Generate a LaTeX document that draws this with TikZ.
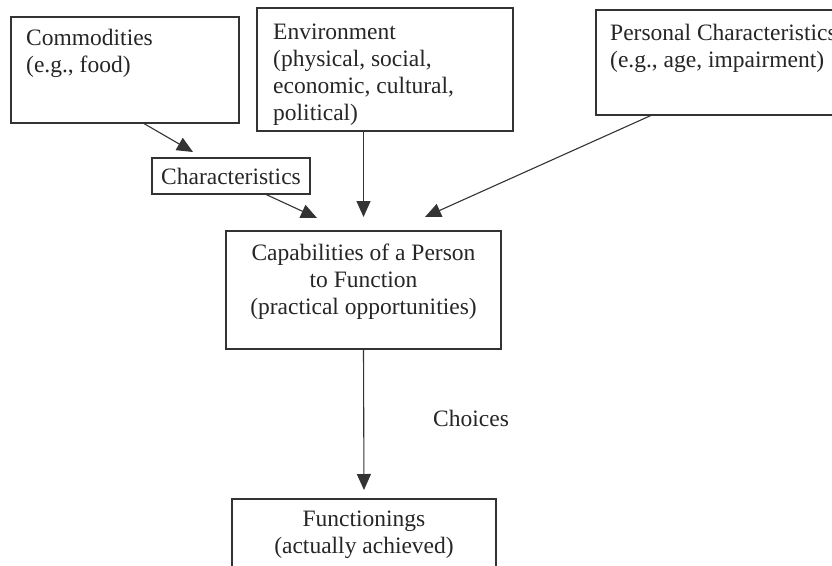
\documentclass[tikz,border=0pt]{standalone}
\usepackage{fontspec}
\setmainfont{Liberation Serif}
\usetikzlibrary{arrows.meta}
\begin{document}
\begin{tikzpicture}[x=1pt,y=-1pt,
  box/.style={draw=black!80, line width=1.1pt, inner sep=0pt, outer sep=0pt, minimum width=#1},
  txt/.style={inner sep=0pt, text=black!85, font=\fontsize{23.5}{27}\selectfont},
  arr/.style={draw=black!80, line width=1.1pt, -{Triangle[length=16pt,width=14pt]}}]
\useasboundingbox[fill=white] (0,0) rectangle (832,565);
% boxes
\node[box=228pt, minimum height=106pt] (com) at (125,70) {};
\node[box=256pt, minimum height=123pt] (env) at (385,69.5) {};
\node[box=264pt, minimum height=105pt] (pers) at (728,62.5) {};
\node[box=158pt, minimum height=36pt, txt, draw=black!80] (char) at (231,176) {Characteristics};
\node[box=275pt, minimum height=118pt] (cap) at (363.5,290) {};
\node[box=264pt, minimum height=101pt] (func) at (364,549.5) {};
% texts (base anchor = last line)
\node[txt, anchor=base west, align=left] (comt) at (26,72) {Commodities\\(e.g., food)};
\node[txt, anchor=base west, align=left] (envt) at (273,120) {Environment\\(physical, social,\\economic, cultural,\\political)};
\node[txt, anchor=base west, align=left] (perst) at (610,67) {Personal Characteristics\\(e.g., age, impairment)};
\node[txt, anchor=base, align=center] (capt) at (363.5,314) {Capabilities of a Person\\to Function\\(practical opportunities)};
\node[txt, anchor=base, align=center] (funct) at (364,553) {Functionings\\(actually achieved)};
\node[txt, anchor=base west] (choices) at (433,426) {Choices};
% tips
\coordinate (t1) at (193,152);
\coordinate (t2) at (317,218);
\coordinate (t3) at (363.5,217);
\coordinate (t4) at (425,217);
% arrows
\draw[arr] ([xshift=18pt]com.south) -- (t1);
\draw[arr] ([xshift=34pt]char.south) -- (t2);
\draw[arr] ([xshift=-21.5pt]env.south) -- (t3);
\draw[arr] ([xshift=-76pt]pers.south) -- (t4);
\draw[arr, shorten >=9pt] (cap.south) -- (func.north);
\end{tikzpicture}
\end{document}
